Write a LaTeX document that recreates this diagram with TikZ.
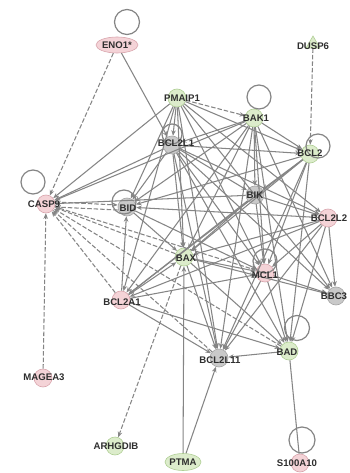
\documentclass[tikz,border=0pt]{standalone}
\usepackage{fontspec}
\setmainfont{Liberation Sans}
\usetikzlibrary{arrows.meta,shapes.geometric,calc}
\definecolor{eg}{HTML}{858585}
\definecolor{tipc}{HTML}{666666}
\definecolor{pinkf}{HTML}{F4D3D7}
\definecolor{pinkd}{HTML}{D9A5AD}
\definecolor{greenf}{HTML}{DCECCB}
\definecolor{greend}{HTML}{B0CF95}
\definecolor{grayf}{HTML}{C9C9C9}
\definecolor{grayd}{HTML}{A5A5A5}
\definecolor{txt}{HTML}{2E2E2E}
\begin{document}
\begin{tikzpicture}[x=1pt,y=-1pt,
  shp/.style={circle,minimum size=18pt,inner sep=0pt,line width=0.6pt},
  pk/.style={shp,fill=pinkf,draw=pinkd},
  gr/.style={shp,fill=greenf,draw=greend},
  gy/.style={shp,fill=grayf,draw=grayd},
  pkell/.style={ellipse,minimum width=42pt,minimum height=16pt,inner sep=0pt,fill=pinkf,draw=pinkd,line width=0.6pt},
  grell/.style={ellipse,minimum width=36pt,minimum height=17pt,inner sep=0pt,fill=greenf,draw=greend,line width=0.6pt},
  tri/.style={regular polygon,regular polygon sides=3,minimum size=16pt,inner sep=0pt,fill=greenf,draw=greend,line width=0.6pt},
  lbl/.style={font=\bfseries\fontsize{9.6}{10}\selectfont,text=txt,inner sep=0pt},
  e/.style={draw=eg,line width=1.05pt,-{Stealth[length=5.5pt,width=4.5pt,fill=tipc]}},
  ln/.style={draw=eg,line width=1.05pt},
  d/.style={e,dash pattern=on 4.5pt off 2pt},
  lp/.style={draw=eg,line width=1.2pt}]
\useasboundingbox (0,0) rectangle (349,473);
\fill[white] (0,0) rectangle (349,473);

% nodes (shapes)
\node[pkell] (eno) at (117,45) {};
\node[tri] (dusp) at (313,44) {};
\node[gr] (pma) at (177,98) {};
\node[gr] (bak) at (254,118) {};
\node[gy] (bcltl) at (172,145) {};
\node[gr] (bcl2) at (310,154) {};
\node[pk] (casp) at (46,204) {};
\node[gy] (bid) at (127,207) {};
\node[gy] (bik) at (255,195) {};
\node[pk] (bcll) at (328,218) {};
\node[gr] (bax) at (184,257) {};
\node[pk] (mcl) at (265,273) {};
\node[gy] (bbc) at (336,296) {};
\node[pk] (bcla) at (121,300) {};
\node[gr] (bad) at (289,351) {};
\node[gy] (bclx) at (219,358) {};
\node[pk] (mag) at (43,378) {};
\node[gr] (arh) at (115,446) {};
\node[grell] (ptma) at (183,462) {};
\node[pk] (s100) at (300,463) {};

% self loops
\draw[lp] ($(eno)+(10,-23)$) circle (12.5pt);
\draw[lp] ($(bak)+(5,-21)$) circle (12pt);
\draw[lp] ($(bcl2)+(8,-8)$) circle (12pt);
\draw[lp] ($(casp)+(-13,-22)$) circle (12pt);
\draw[lp] ($(bad)+(8,-23)$) circle (12.5pt);
\draw[lp] ($(s100)+(2,-23)$) circle (13pt);
\draw[lp] ($(bcltl)+(0,-11)$) circle (10pt);
\draw[lp] ($(mcl)+(0,-12)$) circle (12pt);
\draw[lp] ($(bid)+(-3,-5)$) circle (12pt);

% solid edges
\foreach \s/\t in {pma/bcltl,pma/bax,pma/mcl,pma/bcll,pma/bcl2,pma/bid,pma/bbc,pma/bcla,pma/bclx,pma/casp,
  bak/bcltl,bak/bcl2,bak/bid,bak/bax,bak/mcl,bak/bik,bak/bcla,bak/bclx,bak/bad,bak/casp,bak/bbc,
  bcltl/bcl2,bcltl/bid,bcltl/bax,bcltl/mcl,bcltl/bik,bcltl/bcll,bcltl/bclx,bcltl/bad,bcltl/casp,bcltl/bbc,
  bcl2/bik,bcl2/bax,bcl2/mcl,bcl2/bad,bcl2/bclx,bcl2/bcla,bcl2/bid,
  bik/bax,bik/mcl,bik/bcla,bik/bcll,bik/casp,
  bcll/bax,bcll/mcl,bcll/bbc,bcll/bid,bcll/bad,bcll/bclx,bcll/bcla,
  bax/mcl,bax/bclx,bax/bad,bax/bbc,
  bid/bax,bid/mcl,
  mcl/bbc,mcl/bad,mcl/bclx,
  bcla/bid,bcla/bclx,bcla/bad,bcla/mcl,bcla/bax,
  bad/bclx,eno/bcltl,ptma/bclx,ptma/bax}
  \draw[e] (\s) -- (\t);
\draw[ln] (s100) -- (bad);

% dashed edges
\foreach \s/\t in {eno/casp,mag/casp,dusp/bcl2,pma/bak,bcla/casp,bax/casp,bclx/casp,mcl/casp,bad/casp,bax/arh}
  \draw[d] (\s) -- (\t);
\draw[d] ($(casp.east)+(0,-2)$) coordinate (c1) -- ($(bid.west)+(0,-2)$) coordinate (b1);
\draw[d] ($(bid.west)+(0,3)$) coordinate (b2) -- ($(casp.east)+(0,3)$) coordinate (c2);

% labels
\node[lbl] (eno-l) at (eno) {ENO1*};
\node[lbl] (dusp-l) at (313,46) {DUSP6};
\node[lbl] (pma-l) at (182,98) {PMAIP1};
\node[lbl] (bak-l) at (256,118) {BAK1};
\node[lbl] (bcltl-l) at (176,143) {BCL2L1};
\node[lbl] (bcl2-l) at (310,153) {BCL2};
\node[lbl] (casp-l) at (44,204) {CASP9};
\node[lbl] (bid-l) at (128,208) {BID};
\node[lbl] (bik-l) at (255,195) {BIK};
\node[lbl] (bcll-l) at (329,218) {BCL2L2};
\node[lbl] (bax-l) at (186,258) {BAX};
\node[lbl] (mcl-l) at (265,275) {MCL1};
\node[lbl] (bbc-l) at (334,296) {BBC3};
\node[lbl] (bcla-l) at (122,302) {BCL2A1};
\node[lbl] (bad-l) at (287,352) {BAD};
\node[lbl] (bclx-l) at (220,360) {BCL2L11};
\node[lbl] (mag-l) at (44,377) {MAGEA3};
\node[lbl] (arh-l) at (116,446) {ARHGDIB};
\node[lbl] (ptma-l) at (ptma) {PTMA};
\node[lbl] (s100-l) at (297,463) {S100A10};
\end{tikzpicture}
\end{document}
